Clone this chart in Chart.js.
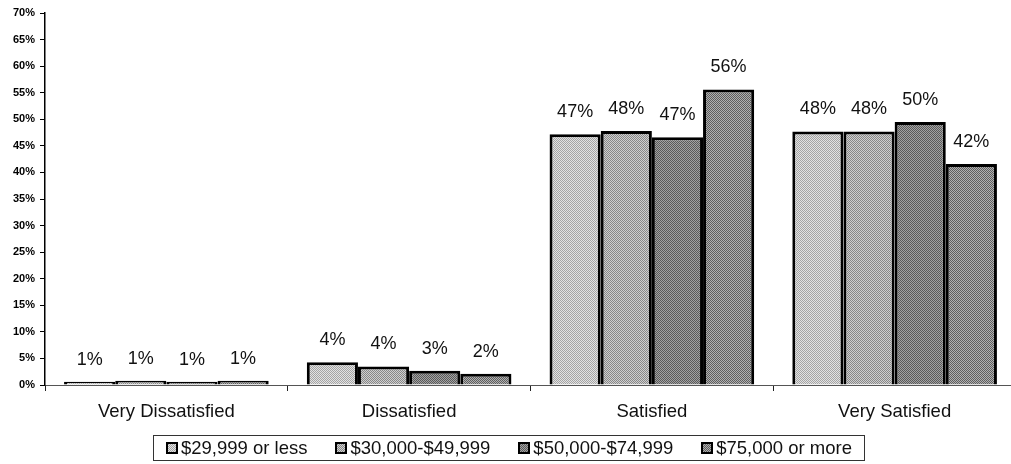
<!DOCTYPE html>
<html>
<head>
<meta charset="utf-8">
<script src="https://cdn.jsdelivr.net/npm/chart.js@4.4.1/dist/chart.umd.min.js"></script>
<style>
    html, body { margin: 0; padding: 0; background: #fff; overflow: hidden; }
    #wrap { position: relative; width: 1020px; height: 464px; }
    #legend {
        position: absolute; left: 153px; top: 435px; width: 712px; height: 26px;
        border: 1px solid #333; display: flex; align-items: center;
        justify-content: space-between; padding: 0 12px; box-sizing: border-box;
        font: 18.5px "Liberation Sans", Arial, sans-serif; color: #111;
    }
    #legend .item { display: flex; align-items: center; white-space: nowrap; }
    #legend .box { width: 8px; height: 8px; border: 2px solid #000; margin-right: 3px; }
</style>
</head>
<body>
<div id="wrap">
    <canvas id="chart" width="1020" height="464"></canvas>
    <div id="legend"></div>
</div>
<script>
// categories, series and ticks
const categories = ['Very Dissatisfied', 'Dissatisfied', 'Satisfied', 'Very Satisfied'];
const seriesNames = ['$29,999 or less', '$30,000-$49,999', '$50,000-$74,999', '$75,000 or more'];
const under30k = [0.6, 4.3, 47.2, 47.7];
const from30to50k = [0.8, 3.5, 47.8, 47.7];
const from50to75k = [0.6, 2.7, 46.6, 49.5];
const over75k = [0.8, 2.1, 55.6, 41.6];
const yTicks = [0, 5, 10, 15, 20, 25, 30, 35, 40, 45, 50, 55, 60, 65, 70];

const seriesValues = [under30k, from30to50k, from50to75k, over75k];
// two tones per series, dithered to look like the halftone print
const tones = [['#e2e2e2', '#a4a4a4'], ['#cfcfcf', '#888888'], ['#a2a2a2', '#5a5a5a'], ['#b0b0b0', '#5e5e5e']];

const makePattern = (c1, c2) => {
    const p = document.createElement('canvas');
    p.width = 2; p.height = 2;
    const g = p.getContext('2d');
    g.fillStyle = c1; g.fillRect(0, 0, 2, 2);
    g.fillStyle = c2; g.fillRect(0, 0, 1, 1); g.fillRect(1, 1, 1, 1);
    return p;
};

const ctx = document.getElementById('chart').getContext('2d');
const patternCanvases = tones.map(t => makePattern(t[0], t[1]));

const datasets = seriesNames.map((name, i) => ({
    label: name,
    data: seriesValues[i],
    backgroundColor: ctx.createPattern(patternCanvases[i], 'repeat'),
    borderColor: '#000',
    borderWidth: 3,
    borderSkipped: 'bottom',
    categoryPercentage: 0.843,
    barPercentage: 1
}));

// value labels over each bar
const valueLabels = {
    id: 'valueLabels',
    afterDatasetsDraw(chart) {
        const c = chart.ctx;
        c.save();
        c.font = '18px "Liberation Sans", Arial, sans-serif';
        c.fillStyle = '#111';
        c.textAlign = 'center';
        c.textBaseline = 'middle';
        chart.data.datasets.forEach((ds, i) => {
            chart.getDatasetMeta(i).data.forEach((bar, j) => {
                c.fillText(Math.round(ds.data[j]) + '%', bar.x, bar.y - 22);
            });
        });
        c.restore();
    }
};

new Chart(ctx, {
    type: 'bar',
    data: { labels: categories, datasets: datasets },
    options: {
        responsive: false,
        animation: false,
        layout: { padding: { top: 13, right: 4, bottom: 0, left: 0 } },
        plugins: {
            legend: { display: false },
            tooltip: { enabled: false }
        },
        scales: {
            x: {
                offset: true,
                grid: { offset: true, drawOnChartArea: false, tickLength: 6, color: '#222', lineWidth: 1 },
                border: { color: '#555', width: 1 },
                ticks: {
                    color: '#111',
                    padding: 10,
                    font: { family: '"Liberation Sans", Arial, sans-serif', size: 18.5 }
                },
                afterFit: (scale) => { scale.height = 79; }
            },
            y: {
                min: 0,
                max: 70,
                afterBuildTicks: (scale) => { scale.ticks = yTicks.map(v => ({ value: v })); },
                grid: { drawOnChartArea: false, tickLength: 5, color: '#000', lineWidth: 1 },
                border: { color: '#000', width: 1.5 },
                ticks: {
                    color: '#000',
                    padding: 5,
                    callback: (v) => v + '%',
                    font: { family: '"Liberation Sans", Arial, sans-serif', size: 11, weight: 'bold' }
                },
                afterFit: (scale) => { scale.width = 45; }
            }
        }
    },
    plugins: [valueLabels]
});

// legend drawn as html from the series
const legend = document.getElementById('legend');
seriesNames.forEach((name, i) => {
    const item = document.createElement('div');
    item.className = 'item';
    const box = document.createElement('span');
    box.className = 'box';
    box.style.backgroundImage = 'url(' + patternCanvases[i].toDataURL() + ')';
    const text = document.createElement('span');
    text.textContent = name;
    item.appendChild(box);
    item.appendChild(text);
    legend.appendChild(item);
});
</script>
</body>
</html>
